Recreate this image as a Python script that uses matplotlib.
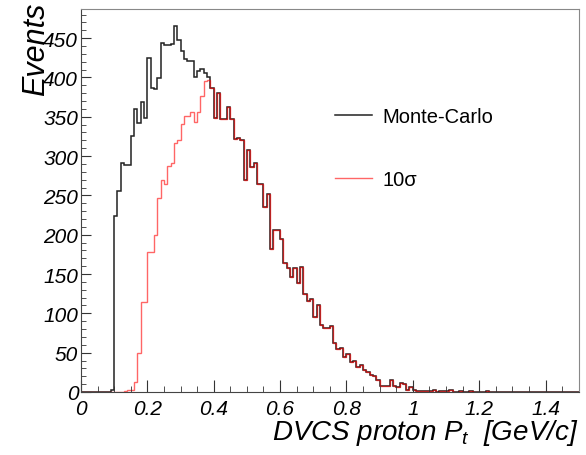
import numpy as np
import matplotlib.pyplot as plt
from matplotlib.ticker import MultipleLocator

plt.rcParams['font.family'] = ['Liberation Sans', 'DejaVu Sans']
plt.rcParams['mathtext.fontset'] = 'custom'
plt.rcParams['mathtext.rm'] = 'Liberation Sans'
plt.rcParams['mathtext.it'] = 'Liberation Sans:italic'

# --- histogram data: 150 bins of 0.01 GeV/c from 0 to 1.5 ---
bin_edges = np.linspace(0.0, 1.5, 151)

# bins 0.00 - 0.38 (where the two samples differ)
mc_head = [0, 0, 0, 0, 0, 0, 0, 0, 0, 2,
           224, 256, 291, 289, 289, 326, 360, 342, 369, 348,
           425, 387, 385, 399, 444, 441, 441, 442, 465, 447,
           433, 424, 421, 421, 401, 408, 411, 406, 400]
sigma_head = [0, 0, 0, 0, 0, 0, 0, 0, 0, 0,
              0, 0, 0, 1, 2, 3, 13, 50, 115, 115,
              178, 178, 199, 247, 269, 264, 288, 291, 316, 320,
              341, 351, 351, 356, 343, 356, 377, 396, 397]
# bins 0.39 - 1.49 (identical for both)
tail = [387, 349, 380, 347, 347, 362, 347, 322, 323, 320, 269,
        308, 286, 291, 264, 264, 235, 252, 182, 206, 206,
        194, 164, 158, 146, 158, 139, 159, 125, 116, 118,
        95, 110, 85, 82, 82, 84, 62, 55, 56, 45,
        48, 38, 40, 32, 34, 28, 25, 22, 20, 15,
        8, 8, 7, 15, 7, 6, 12, 10, 3, 6,
        2, 1, 1, 1, 1, 1, 2, 0, 1, 1,
        1, 2, 0, 0, 1, 0, 0, 1, 0, 0,
        0, 0, 1, 0, 0, 0, 0, 0, 0, 0,
        0, 0, 0, 0, 0, 0, 0, 0, 0, 0,
        0, 0, 0, 0, 0, 0, 0, 0, 0, 0]

monte_carlo = np.array(mc_head + tail)
sigma10 = np.array(sigma_head + tail)

# --- plot ---
fig = plt.figure(figsize=(5.86, 4.56), dpi=100)
ax = fig.add_axes([81 / 586, 63 / 456, 497.7 / 586, 383 / 456])

ax.stairs(monte_carlo, bin_edges, color='#222222', lw=1.1, label='Monte-Carlo')
ax.stairs(sigma10, bin_edges, color='red', lw=1.0, alpha=0.6, label='10σ')

ax.set_xlim(0, 1.5)
ax.set_ylim(0, 487)

ax.xaxis.set_major_locator(MultipleLocator(0.2))
ax.xaxis.set_minor_locator(MultipleLocator(0.05))
ax.yaxis.set_major_locator(MultipleLocator(50))
ax.yaxis.set_minor_locator(MultipleLocator(10))
ax.xaxis.set_major_formatter(lambda v, p: f'{v:g}')

ax.tick_params(which='both', direction='in', top=False, right=False, color='#333333')
ax.tick_params(axis='x', which='major', length=9, pad=5, labelsize=15)
ax.tick_params(axis='x', which='minor', length=4.5)
ax.tick_params(axis='y', which='major', length=7, pad=2, labelsize=15)
ax.tick_params(axis='y', which='minor', length=3.5)
for lab in ax.get_xticklabels() + ax.get_yticklabels():
    lab.set_fontstyle('italic')

for side in ['top', 'right']:
    ax.spines[side].set_color('#888888')
for side in ['bottom', 'left']:
    ax.spines[side].set_color('#444444')

fig.text(578 / 586, 16 / 456, r'DVCS proton $P_{t}$  [GeV/c]', ha='right',
         va='baseline', fontsize=20, fontstyle='italic')
# the reference draws this title across the top tick labels
fig.text(36 / 586, 1 - 3 / 456, 'Events', rotation=90, ha='center', va='top',
         fontsize=22, fontstyle='italic')

ax.legend(loc='upper left', bbox_to_anchor=(254 / 498, 1 - 98 / 383), frameon=False,
          fontsize=14.5, handlelength=1.85, handletextpad=0.5, labelspacing=2.2,
          borderaxespad=0, borderpad=0)

fig.savefig('out.png', dpi=100)
